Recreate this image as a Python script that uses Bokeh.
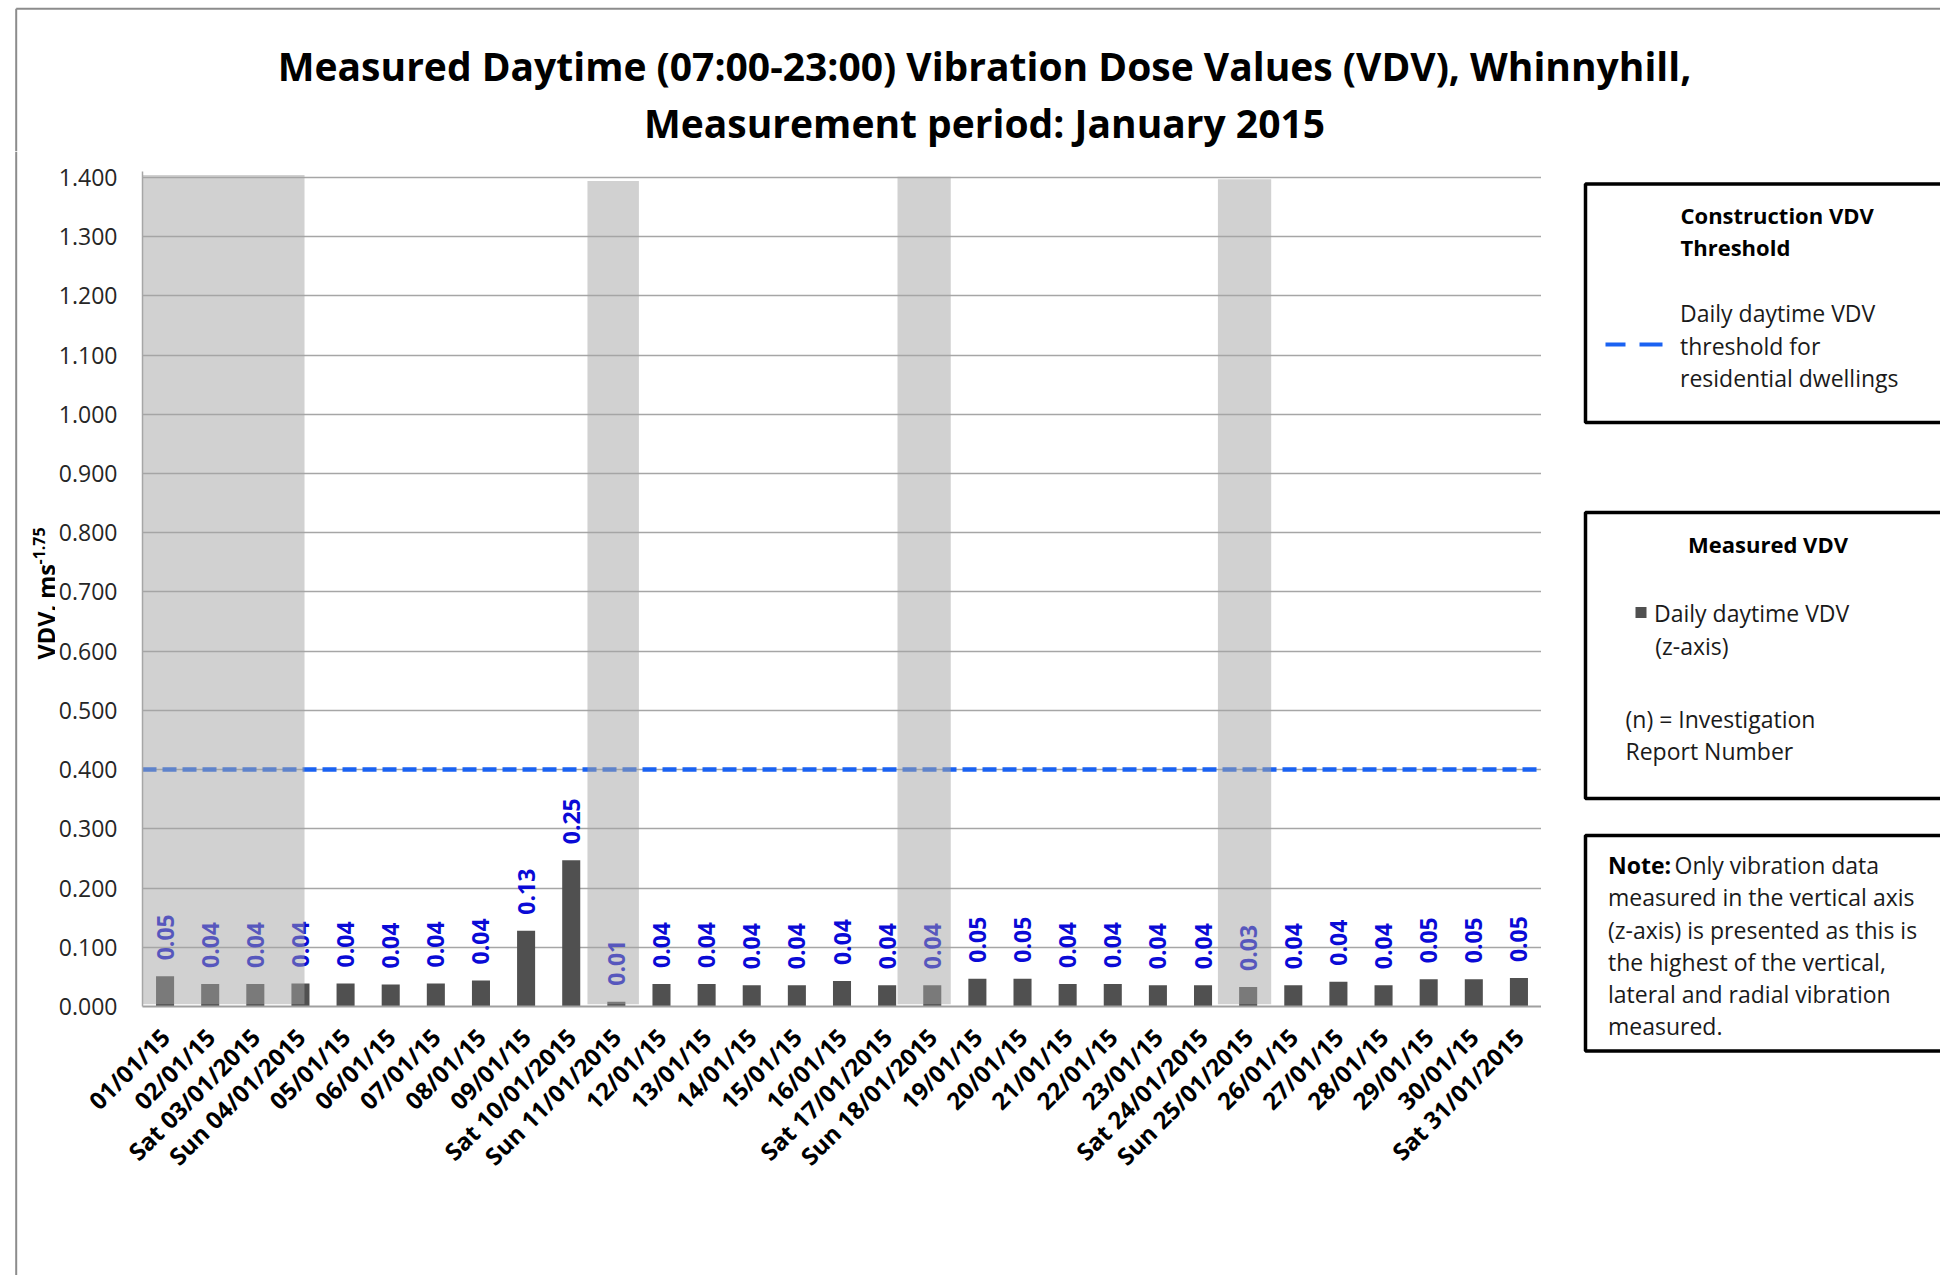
import math
from bokeh.plotting import figure
from bokeh.layouts import column, row
from bokeh.models import Range1d, FactorRange, FixedTicker, NumeralTickFormatter
from bokeh.core.properties import value
from bokeh.embed import file_html
from bokeh.resources import INLINE

# ---------------- data ----------------
dates = ["01/01/15", "02/01/15", "Sat 03/01/2015", "Sun 04/01/2015", "05/01/15", "06/01/15",
         "07/01/15", "08/01/15", "09/01/15", "Sat 10/01/2015", "Sun 11/01/2015", "12/01/15",
         "13/01/15", "14/01/15", "15/01/15", "16/01/15", "Sat 17/01/2015", "Sun 18/01/2015",
         "19/01/15", "20/01/15", "21/01/15", "22/01/15", "23/01/15", "Sat 24/01/2015",
         "Sun 25/01/2015", "26/01/15", "27/01/15", "28/01/15", "29/01/15", "30/01/15",
         "Sat 31/01/2015"]
vdv = [0.051, 0.038, 0.038, 0.039, 0.039, 0.037, 0.039, 0.044, 0.128, 0.247, 0.008, 0.038,
       0.038, 0.036, 0.036, 0.043, 0.036, 0.036, 0.047, 0.047, 0.038, 0.038, 0.036, 0.036,
       0.033, 0.036, 0.042, 0.036, 0.046, 0.046, 0.048]
threshold = 0.4
y_ticks = [0.0, 0.1, 0.2, 0.3, 0.4, 0.5, 0.6, 0.7, 0.8, 0.9, 1.0, 1.1, 1.2, 1.3, 1.4]
# weekend shading (in category units along the x axis)
weekend_start = [0.0, 9.86, 16.73, 23.83]
weekend_end = [3.59, 11.0, 17.91, 25.01]
weekend_top = [1.404, 1.394, 1.401, 1.397]

title_lines = ["Measured Daytime (07:00-23:00) Vibration Dose Values (VDV), Whinnyhill,",
               "Measurement period: January 2015"]

FONT = value("Open Sans")
LABEL_GAP = 0.027
BORDER_GREY = "#8c8c8c"
BLUE = "#1a62f2"
W, H = 1940, 1275
TOP_H = 151
ROW_H = H - TOP_H
FRAME_TOP = 20
FRAME_H = 835
YF_W = 55


def blank(fig):
    fig.axis.visible = False
    fig.grid.visible = False
    fig.outline_line_color = None
    return fig


# ---------------- title strip ----------------
tf = blank(figure(width=W, height=TOP_H, x_range=Range1d(0, W), y_range=Range1d(TOP_H, 0),
                  output_backend="svg", toolbar_location=None, min_border=0, frame_align=False))
tf.line(x=[15.7, W], y=[8.3, 8.3], line_color=BORDER_GREY, line_width=2)
tf.line(x=[15.7, 15.7], y=[8.3, TOP_H], line_color=BORDER_GREY, line_width=2)
tf.text(x=[984, 984], y=[64.5, 121.5], text=title_lines, text_align="center",
        text_baseline="middle", text_font=FONT, text_font_style="bold",
        text_font_size="39px", text_color="black")

# ---------------- y-axis title strip ----------------
yf = blank(figure(width=YF_W, height=ROW_H, x_range=Range1d(0, YF_W), y_range=Range1d(H, TOP_H),
                  output_backend="svg", toolbar_location=None, min_border=0, frame_align=False))
yf.line(x=[15.7, 15.7], y=[TOP_H, H], line_color=BORDER_GREY, line_width=2)
yf.text(x=[45], y=[659], text=["VDV, ms"], angle=math.pi / 2, text_align="left",
        text_baseline="alphabetic", text_font=FONT, text_font_style="bold",
        text_font_size="23.5px", text_color="black")
yf.text(x=[38], y=[564], text=["-1.75"], angle=math.pi / 2, text_align="left",
        text_baseline="alphabetic", text_font=FONT, text_font_style="bold",
        text_font_size="16px", text_color="black")

# ---------------- main chart ----------------
p = figure(x_range=FactorRange(factors=dates, range_padding=0), y_range=Range1d(0, 1.41),
           width=1541 - YF_W, height=ROW_H, min_border_left=142 - YF_W, min_border_right=0,
           min_border_top=FRAME_TOP, min_border_bottom=ROW_H - FRAME_TOP - FRAME_H,
           frame_align=False, output_backend="svg", toolbar_location=None)
p.outline_line_color = None
p.xgrid.grid_line_color = None
p.ygrid.grid_line_color = "#a6a6a6"
p.ygrid.grid_line_width = 1.5
p.yaxis.ticker = FixedTicker(ticks=y_ticks)
p.yaxis.formatter = NumeralTickFormatter(format="0.000")
p.yaxis.major_tick_out = 0
p.yaxis.major_tick_in = 0
p.yaxis.minor_tick_out = 0
p.yaxis.minor_tick_in = 0
p.yaxis.major_label_standoff = 25
p.yaxis.axis_line_color = "#a6a6a6"
p.yaxis.axis_line_width = 1.5
p.yaxis.major_label_text_font = "Open Sans"
p.yaxis.major_label_text_font_size = "23px"
p.yaxis.major_label_text_color = "#262626"

p.xaxis.major_label_orientation = math.pi / 4
p.xaxis.major_tick_out = 0
p.xaxis.major_tick_in = 0
p.xaxis.major_label_standoff = 26
p.xaxis.axis_line_color = "#a0a0a0"
p.xaxis.axis_line_width = 2
p.xaxis.major_label_text_font = "Open Sans"
p.xaxis.major_label_text_font_style = "bold"
p.xaxis.major_label_text_font_size = "24px"
p.xaxis.major_label_text_color = "black"

n = len(dates)
p.vbar(x=dates, top=vdv, width=0.4, fill_color="#505050", line_color=None)
p.text(x=dates, y=[v + LABEL_GAP for v in vdv], text=[f"{v:.2f}" for v in vdv],
       angle=math.pi / 2, text_align="left", text_baseline="middle", text_font=FONT,
       text_font_style="bold", text_font_size="23px", text_color="#0a0ad6")
p.line(x=[0, n], y=[threshold, threshold], line_color=BLUE, line_width=4.5,
       line_dash="14 6")
p.quad(left=weekend_start, right=weekend_end, bottom=0.004, top=weekend_top,
       fill_color="#a3a3a3", fill_alpha=0.5, line_color=None)

# ---------------- legend / notes strip ----------------
LX0 = 1541
lf = blank(figure(width=W - LX0, height=ROW_H, x_range=Range1d(LX0, W), y_range=Range1d(H, TOP_H),
                  output_backend="svg", toolbar_location=None, min_border=0, frame_align=False))

lf.quad(left=[1585, 1585, 1585], right=[1990, 1990, 1990], top=[183.6, 512, 835],
        bottom=[422, 798, 1050.6], fill_color="white", line_color="black", line_width=3.5)

# box 1
lf.text(x=[1680, 1680], y=[214.6, 246.8], text=["Construction VDV", "Threshold"],
        text_align="left", text_baseline="middle", text_font=FONT, text_font_style="bold",
        text_font_size="22px", text_color="black")
lf.text(x=[1679.5] * 3, y=[312.6, 345, 377],
        text=["Daily daytime VDV", "threshold for", "residential dwellings"],
        text_align="left", text_baseline="middle", text_font=FONT,
        text_font_size="23px", text_color="#1a1a1a")
lf.segment(x0=[1605, 1639], y0=[344, 344], x1=[1625, 1662], y1=[344, 344],
           line_color=BLUE, line_width=4)

# box 2
lf.text(x=[1767.5], y=[543], text=["Measured VDV"], text_align="center",
        text_baseline="middle", text_font=FONT, text_font_style="bold",
        text_font_size="22px", text_color="black")
lf.rect(x=[1640.5], y=[612], width=11, height=11, fill_color="#505050", line_color=None)
lf.text(x=[1653.5, 1654.7, 1625, 1625], y=[612.8, 645, 718, 750],
        text=["Daily daytime VDV", "(z-axis)", "(n) = Investigation", "Report Number"],
        text_align="left", text_baseline="middle", text_font=FONT,
        text_font_size="23px", text_color="#1a1a1a")

# box 3
lf.text(x=[1607.5], y=[864.6], text=["Note:"], text_align="left", text_baseline="middle",
        text_font=FONT, text_font_style="bold", text_font_size="23px", text_color="black")
lf.text(x=[1674, 1607.5, 1607.5, 1607.5, 1607.5, 1607.5],
        y=[864.6, 896.8, 929, 961, 993.6, 1025.8],
        text=["Only vibration data", "measured in the vertical axis",
              "(z-axis) is presented as this is", "the highest of the vertical,",
              "lateral and radial vibration", "measured."],
        text_align="left", text_baseline="middle", text_font=FONT,
        text_font_size="23px", text_color="#1a1a1a")

layout = column(tf, row(yf, p, lf))
open("out.html", "w").write(file_html(layout, INLINE))
